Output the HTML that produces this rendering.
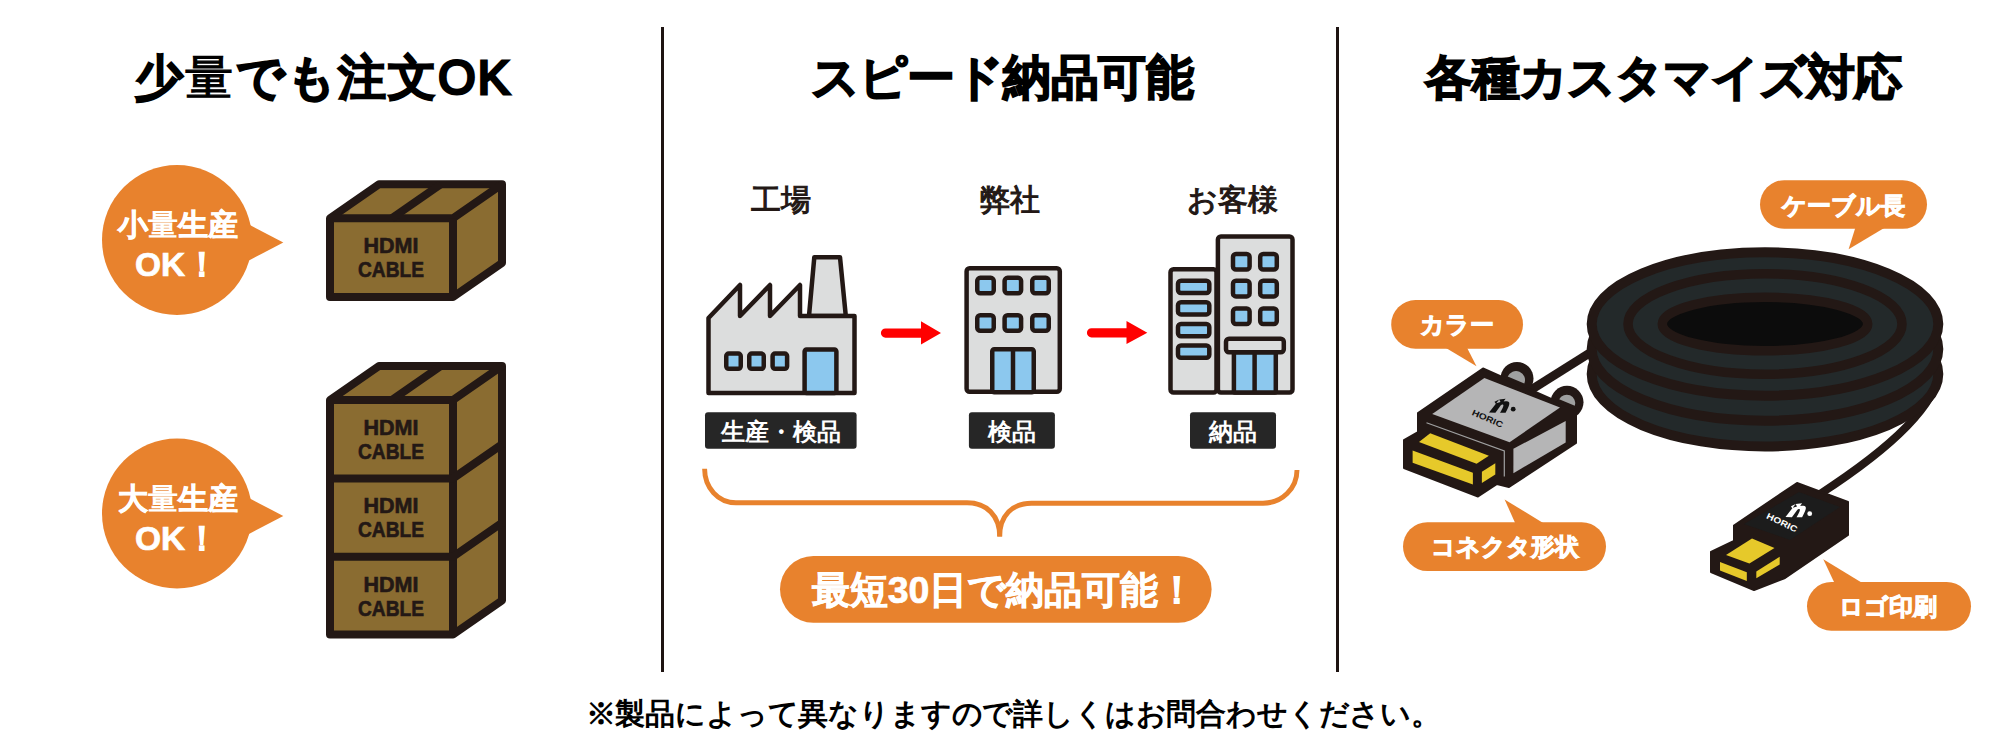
<!DOCTYPE html>
<html><head><meta charset="utf-8">
<style>
html,body{margin:0;padding:0;background:#fff;width:2000px;height:750px;overflow:hidden}
svg{display:block}
text{font-family:"Liberation Sans",sans-serif}
.h{font-size:48px;font-weight:normal;fill:#000;stroke:#000;stroke-width:3.1px;paint-order:stroke}
.w{fill:#fff;font-weight:bold;stroke:#fff;stroke-width:0.7px;paint-order:stroke}
.lb{font-size:30px;fill:#231815;stroke:#231815;stroke-width:1.1px;paint-order:stroke}
</style></head>
<body>
<svg width="2000" height="750" viewBox="0 0 2000 750">
<!-- dividers -->
<rect x="661" y="27" width="3" height="645" fill="#1e1412"/>
<rect x="1336" y="27" width="3" height="645" fill="#1e1412"/>

<!-- headings -->
<text class="h" x="322.5" y="94" text-anchor="middle" textLength="374.4" lengthAdjust="spacing">少<tspan style="stroke-width:1.2px">量</tspan>でも注文OK</text>
<text class="h" x="1002" y="94" text-anchor="middle" textLength="383" lengthAdjust="spacing">スピード納品可能</text>
<text class="h" x="1663.5" y="94" text-anchor="middle" textLength="477" lengthAdjust="spacing">各種カスタマイズ対応</text>

<!-- ============ SECTION 1 ============ -->
<g id="s1">
  <!-- bubble 1 -->
  <circle cx="177" cy="240" r="75" fill="#e8822d"/>
  <polygon points="248,224 283.3,242.4 248,261" fill="#e8822d"/>
  <text class="w" x="177.5" y="235" text-anchor="middle" font-size="30">小<tspan style="stroke-width:0">量</tspan>生産</text>
  <text class="w" x="177" y="275.5" text-anchor="middle" font-size="33.5">OK！</text>
  <!-- bubble 2 -->
  <circle cx="177" cy="513.5" r="75" fill="#e8822d"/>
  <polygon points="248,497.5 283.3,516 248,534.5" fill="#e8822d"/>
  <text class="w" x="177.5" y="509" text-anchor="middle" font-size="30">大<tspan style="stroke-width:0">量</tspan>生産</text>
  <text class="w" x="177" y="549.5" text-anchor="middle" font-size="33.5">OK！</text>
  <polygon points="330,218.3 379,184.3 502,184.3 502,263 453,297 330,297" fill="#8a6c31" stroke="#231815" stroke-width="8" stroke-linejoin="round"/>
  <polyline points="330,218.3 453,218.3 502,184.3" fill="none" stroke="#231815" stroke-width="8" stroke-linejoin="round"/>
  <line x1="453" y1="218.3" x2="453" y2="297" stroke="#231815" stroke-width="8"/>
  <line x1="391.8" y1="218.3" x2="440.8" y2="184.3" stroke="#231815" stroke-width="8"/>
  <text x="391" y="253" text-anchor="middle" font-size="21.5" font-weight="bold" fill="#231815" stroke="#231815" stroke-width="0.6" textLength="55" lengthAdjust="spacingAndGlyphs">HDMI</text><text x="391" y="277" text-anchor="middle" font-size="21.5" font-weight="bold" fill="#231815" stroke="#231815" stroke-width="0.6" textLength="66" lengthAdjust="spacingAndGlyphs">CABLE</text>
  <polygon points="330,400 379,366 502,366 502,600.5 453,634.5 330,634.5" fill="#8a6c31" stroke="#231815" stroke-width="8" stroke-linejoin="round"/>
  <polyline points="330,400 453,400 502,366" fill="none" stroke="#231815" stroke-width="8" stroke-linejoin="round"/>
  <line x1="453" y1="400" x2="453" y2="634.5" stroke="#231815" stroke-width="8"/>
  <line x1="391.8" y1="400" x2="440.8" y2="366" stroke="#231815" stroke-width="8"/>
  <polyline points="330,478.4 453,478.4 502,444.4" fill="none" stroke="#231815" stroke-width="8" stroke-linejoin="round"/>
  <polyline points="330,556.8 453,556.8 502,522.8" fill="none" stroke="#231815" stroke-width="8" stroke-linejoin="round"/>
  <text x="391" y="435" text-anchor="middle" font-size="21.5" font-weight="bold" fill="#231815" stroke="#231815" stroke-width="0.6" textLength="55" lengthAdjust="spacingAndGlyphs">HDMI</text><text x="391" y="459" text-anchor="middle" font-size="21.5" font-weight="bold" fill="#231815" stroke="#231815" stroke-width="0.6" textLength="66" lengthAdjust="spacingAndGlyphs">CABLE</text><text x="391" y="513.4" text-anchor="middle" font-size="21.5" font-weight="bold" fill="#231815" stroke="#231815" stroke-width="0.6" textLength="55" lengthAdjust="spacingAndGlyphs">HDMI</text><text x="391" y="537.4" text-anchor="middle" font-size="21.5" font-weight="bold" fill="#231815" stroke="#231815" stroke-width="0.6" textLength="66" lengthAdjust="spacingAndGlyphs">CABLE</text><text x="391" y="591.8" text-anchor="middle" font-size="21.5" font-weight="bold" fill="#231815" stroke="#231815" stroke-width="0.6" textLength="55" lengthAdjust="spacingAndGlyphs">HDMI</text><text x="391" y="615.8" text-anchor="middle" font-size="21.5" font-weight="bold" fill="#231815" stroke="#231815" stroke-width="0.6" textLength="66" lengthAdjust="spacingAndGlyphs">CABLE</text>
</g>

<!-- ============ SECTION 2 ============ -->
<g id="s2">
  <text class="lb" x="780.6" y="209.5" text-anchor="middle">工場</text>
  <text class="lb" x="1010.4" y="209.5" text-anchor="middle">弊社</text>
  <text class="lb" x="1232.8" y="209.5" text-anchor="middle">お客様</text>
  <path d="M814.3,257.3 L840,257.3 L845.8,316 L809,316 Z" fill="#dcdddd" stroke="#231815" stroke-width="4.5" stroke-linejoin="round"/>
  <path d="M708.5,393 L708.5,318 L740,285 L740,316 L770,285 L770,316 L800,285 L800,316 L854.5,316 L854.5,393 Z" fill="#dcdddd" stroke="#231815" stroke-width="4.5" stroke-linejoin="round"/>
  <rect x="726.25" y="353.6" width="14.5" height="15.2" rx="2.5" fill="#8cc8ee" stroke="#231815" stroke-width="4.5"/>
  <rect x="749.25" y="353.6" width="14.5" height="15.2" rx="2.5" fill="#8cc8ee" stroke="#231815" stroke-width="4.5"/>
  <rect x="772.6" y="353.6" width="14.5" height="15.2" rx="2.5" fill="#8cc8ee" stroke="#231815" stroke-width="4.5"/>
  <rect x="804.6" y="349.5" width="31.8" height="43.5" rx="2" fill="#8cc8ee" stroke="#231815" stroke-width="4.5"/>
  <rect x="966.6" y="268.2" width="93.2" height="123.6" rx="3" fill="#dcdddd" stroke="#231815" stroke-width="4.5"/>
  <rect x="977.25" y="277.85" width="16.5" height="15.5" rx="3" fill="#8cc8ee" stroke="#231815" stroke-width="4.5"/>
  <rect x="1004.6" y="277.85" width="16.5" height="15.5" rx="3" fill="#8cc8ee" stroke="#231815" stroke-width="4.5"/>
  <rect x="1032.25" y="277.85" width="16.5" height="15.5" rx="3" fill="#8cc8ee" stroke="#231815" stroke-width="4.5"/>
  <rect x="977.25" y="315.25" width="16.5" height="15.5" rx="3" fill="#8cc8ee" stroke="#231815" stroke-width="4.5"/>
  <rect x="1004.6" y="315.25" width="16.5" height="15.5" rx="3" fill="#8cc8ee" stroke="#231815" stroke-width="4.5"/>
  <rect x="1032.25" y="315.25" width="16.5" height="15.5" rx="3" fill="#8cc8ee" stroke="#231815" stroke-width="4.5"/>
  <rect x="992.25" y="349.25" width="41.5" height="43" rx="2" fill="#8cc8ee" stroke="#231815" stroke-width="4.5"/>
  <line x1="1013" y1="349" x2="1013" y2="392" stroke="#231815" stroke-width="4.5"/>
  <rect x="1170.5" y="269.2" width="46" height="123.4" rx="3" fill="#dcdddd" stroke="#231815" stroke-width="4.5"/>
  <rect x="1217.9" y="236.5" width="74.6" height="156" rx="3" fill="#dcdddd" stroke="#231815" stroke-width="4.5"/>
  <rect x="1178" y="280.8" width="31.3" height="12.2" rx="3" fill="#8cc8ee" stroke="#231815" stroke-width="4.5"/>
  <rect x="1178" y="302.2" width="31.3" height="12.2" rx="3" fill="#8cc8ee" stroke="#231815" stroke-width="4.5"/>
  <rect x="1178" y="324" width="31.3" height="12.2" rx="3" fill="#8cc8ee" stroke="#231815" stroke-width="4.5"/>
  <rect x="1178" y="345.5" width="31.3" height="12.2" rx="3" fill="#8cc8ee" stroke="#231815" stroke-width="4.5"/>
  <rect x="1233" y="254" width="16.6" height="15.6" rx="3" fill="#8cc8ee" stroke="#231815" stroke-width="4.5"/>
  <rect x="1260.2" y="254" width="16.6" height="15.6" rx="3" fill="#8cc8ee" stroke="#231815" stroke-width="4.5"/>
  <rect x="1233" y="280.8" width="16.6" height="15.6" rx="3" fill="#8cc8ee" stroke="#231815" stroke-width="4.5"/>
  <rect x="1260.2" y="280.8" width="16.6" height="15.6" rx="3" fill="#8cc8ee" stroke="#231815" stroke-width="4.5"/>
  <rect x="1233" y="308.4" width="16.6" height="15.6" rx="3" fill="#8cc8ee" stroke="#231815" stroke-width="4.5"/>
  <rect x="1260.2" y="308.4" width="16.6" height="15.6" rx="3" fill="#8cc8ee" stroke="#231815" stroke-width="4.5"/>
  <rect x="1233.9" y="352.3" width="41.9" height="40.3" rx="1" fill="#8cc8ee" stroke="#231815" stroke-width="4.5"/>
  <line x1="1254.6" y1="352" x2="1254.6" y2="392" stroke="#231815" stroke-width="4.5"/>
  <rect x="1226" y="338.7" width="57.8" height="13.6" rx="3" fill="#dcdddd" stroke="#231815" stroke-width="4.5"/>
  <path d="M885.5,328.5 L921,328.5 L921,321.3 L941,333.1 L921,344.40000000000003 L921,337.70000000000005 L885.5,337.70000000000005 A4.6,4.6 0 0 1 885.5,328.5 Z" fill="#ff0000"/>
  <path d="M1091.5,328.2 L1126.5,328.2 L1126.5,321.0 L1147.3,332.8 L1126.5,344.1 L1126.5,337.40000000000003 L1091.5,337.40000000000003 A4.6,4.6 0 0 1 1091.5,328.2 Z" fill="#ff0000"/>
  <rect x="705" y="412.2" width="151.6" height="36.6" rx="3" fill="#262626"/>
  <text class="w" x="781" y="439.5" text-anchor="middle" font-size="24" style="stroke-width:0">生産・検品</text>
  <rect x="968.9" y="412.2" width="86.0" height="36.6" rx="3" fill="#262626"/>
  <text class="w" x="1012.3" y="439.5" text-anchor="middle" font-size="24" style="stroke-width:0">検品</text>
  <rect x="1190" y="412.2" width="86.0" height="36.6" rx="3" fill="#262626"/>
  <text class="w" x="1233" y="439.5" text-anchor="middle" font-size="24" style="stroke-width:0">納品</text>
  <path d="M704.6,468.8 C704.6,487.6 718,502.8 736,502.8 L967,502.8 C987,502.8 999.7,516 999.7,536.5" fill="none" stroke="#e8822d" stroke-width="4.9"/>
  <path d="M1297,470 C1297,488.5 1282,503.2 1263,503.2 L1031.5,503.2 C1012,503.2 999.7,516 999.7,536.5" fill="none" stroke="#e8822d" stroke-width="4.9"/>
  <rect x="780" y="556" width="431.6" height="66.7" rx="33.35" fill="#e8822d"/>
  <text class="w" x="1004" y="603" text-anchor="middle" font-size="37.5">最短30日で納品可能！</text>
</g>

<!-- ============ SECTION 3 ============ -->
<g id="s3">
  <rect x="1760" y="180.2" width="167" height="48.6" rx="24.3" fill="#e8822d"/>
  <polygon points="1857.1,222 1894.2,222 1848.6,249.2" fill="#e8822d"/>
  <text class="w" x="1843" y="213.5" text-anchor="middle" font-size="24" style="stroke-width:1px">ケーブル長</text>
  <rect x="1391.2" y="300.1" width="131.8" height="48.6" rx="24.3" fill="#e8822d"/>
  <polygon points="1436,342 1464.1,342 1476.5,366.3" fill="#e8822d"/>
  <text class="w" x="1457" y="333" text-anchor="middle" font-size="24" style="stroke-width:1px">カラー</text>
  <rect x="1403" y="522.2" width="203" height="48.8" rx="24.4" fill="#e8822d"/>
  <polygon points="1517.8,529 1552.9,529 1504.6,499.4" fill="#e8822d"/>
  <text class="w" x="1504.6" y="555" text-anchor="middle" font-size="24" style="stroke-width:1px">コネクタ形状</text>
  <rect x="1807" y="582" width="164" height="48.7" rx="24.35" fill="#e8822d"/>
  <polygon points="1837.3,589 1872.2,589 1823.3,559.3" fill="#e8822d"/>
  <text class="w" x="1888" y="615" text-anchor="middle" font-size="24" style="stroke-width:1px">ロゴ印刷</text>
  <line x1="1530" y1="390.5" x2="1600" y2="346.5" stroke="#231815" stroke-width="8.6"/>
  <path d="M1939,372 C1935,410 1880,455 1820,494" fill="none" stroke="#231815" stroke-width="8"/>
  <ellipse cx="1765" cy="374" rx="173.3" ry="72.5" fill="#23292a" stroke="#231815" stroke-width="10"/>
  <ellipse cx="1765" cy="349" rx="173.3" ry="71.7" fill="#23292a" stroke="#231815" stroke-width="10"/>
  <ellipse cx="1765" cy="324" rx="173.3" ry="71.7" fill="#23292a" stroke="#231815" stroke-width="10"/>
  <ellipse cx="1765" cy="324" rx="137" ry="50.3" fill="none" stroke="#231815" stroke-width="9.5"/>
  <ellipse cx="1765" cy="324" rx="102.7" ry="26.8" fill="#0c0c0c" stroke="#231815" stroke-width="9.5"/>
  <circle cx="1517" cy="378.5" r="16.5" fill="#231815"/>
  <path d="M1507.7,376.5 A9,9 0 0 1 1524.3,383.5 Z" fill="#9fa0a0"/>
  <circle cx="1567" cy="402.3" r="16.5" fill="#231815"/>
  <path d="M1559.2,399.2 A8.5,8.5 0 0 1 1574.8,405.8 Z" fill="#9fa0a0"/>
  <polygon points="1483,368.5 1576,410 1576,443 1509,487 1497,484 1478,496.5 1404,468 1404,440 1418,432 1418,413" fill="#231815" stroke="#231815" stroke-width="2" stroke-linejoin="round"/>
  <polygon points="1484.4,378 1560,407.4 1509.6,442.2 1432.2,414" fill="#b5b5b6"/>
  <polygon points="1513.4,448.8 1565.7,421 1565.7,442.4 1513.4,473.3" fill="#b5b5b6"/>
  <polyline points="1426.5,422.7 1504.3,451 1504.3,476.5" fill="none" stroke="#9fa0a0" stroke-width="1.2"/>
  <polygon points="1419,441.9 1430.2,433.3 1488.9,455.7 1476.6,463.7" fill="#e6c92a"/>
  <polygon points="1412.6,450.4 1472.9,472.8 1472.9,484.5 1412.6,462.7" fill="#e6c92a"/>
  <polygon points="1481.9,471.7 1495.3,463.2 1495.3,474.4 1481.9,483" fill="#e6c92a"/>
  <g fill="#111"><g transform="translate(1501,405)"><path d="M-1.8,-5.6 L4.6,-6.2 L-5.6,7.8 L-12,7.4 Z M-1.8,-5.6 L-6.5,-3.2 L-5.5,-1.6 L-0.5,-3 Z M-5,1.5 C-2,-2.8 3.5,-4.6 7,-3.4 C9.4,-2.5 8.6,0.5 4.6,7.8 L-1,7.8 C2.2,2.4 3.2,-0.4 1.8,-0.6 C0.4,-0.8 -2.6,1.8 -5,4.6 Z"/><circle cx="12.2" cy="4.2" r="2.4"/></g><text transform="translate(1487.5,418.5) rotate(23.5)" x="0" y="3" text-anchor="middle" font-size="8.5" font-weight="bold" textLength="33" lengthAdjust="spacingAndGlyphs" fill="#111">HORIC</text></g>
  <polygon points="1797,483 1848,502 1848,535 1785,578 1754,590 1711,572 1711,552 1734,541 1734,525.5" fill="#231815" stroke="#231815" stroke-width="2" stroke-linejoin="round"/>
  <polygon points="1799,492 1840,507 1790,540 1744,524" fill="#1c1c1c"/>
  <polygon points="1726,555 1752,538.5 1774.5,548 1749.4,563.6" fill="#e6c92a"/>
  <polygon points="1720,561.9 1746.8,572.3 1746.8,581 1720,570.5" fill="#e6c92a"/>
  <polygon points="1756.3,571.4 1779.7,556.7 1779.7,564.5 1756.3,578.3" fill="#e6c92a"/>
  <g fill="#fff"><g transform="translate(1797.5,509.5)"><path d="M-1.8,-5.6 L4.6,-6.2 L-5.6,7.8 L-12,7.4 Z M-1.8,-5.6 L-6.5,-3.2 L-5.5,-1.6 L-0.5,-3 Z M-5,1.5 C-2,-2.8 3.5,-4.6 7,-3.4 C9.4,-2.5 8.6,0.5 4.6,7.8 L-1,7.8 C2.2,2.4 3.2,-0.4 1.8,-0.6 C0.4,-0.8 -2.6,1.8 -5,4.6 Z"/><circle cx="12.2" cy="4.2" r="2.4"/></g><text transform="translate(1782,522.5) rotate(25.5)" x="0" y="3" text-anchor="middle" font-size="8.5" font-weight="bold" textLength="33" lengthAdjust="spacingAndGlyphs" fill="#fff">HORIC</text></g>
</g>

<!-- footer -->
<text x="1013.3" y="724" text-anchor="middle" textLength="855.4" lengthAdjust="spacing" font-size="30" font-weight="bold" fill="#000">※製品によって異なりますので詳しくはお問合わせください。</text>
</svg>
</body></html>
